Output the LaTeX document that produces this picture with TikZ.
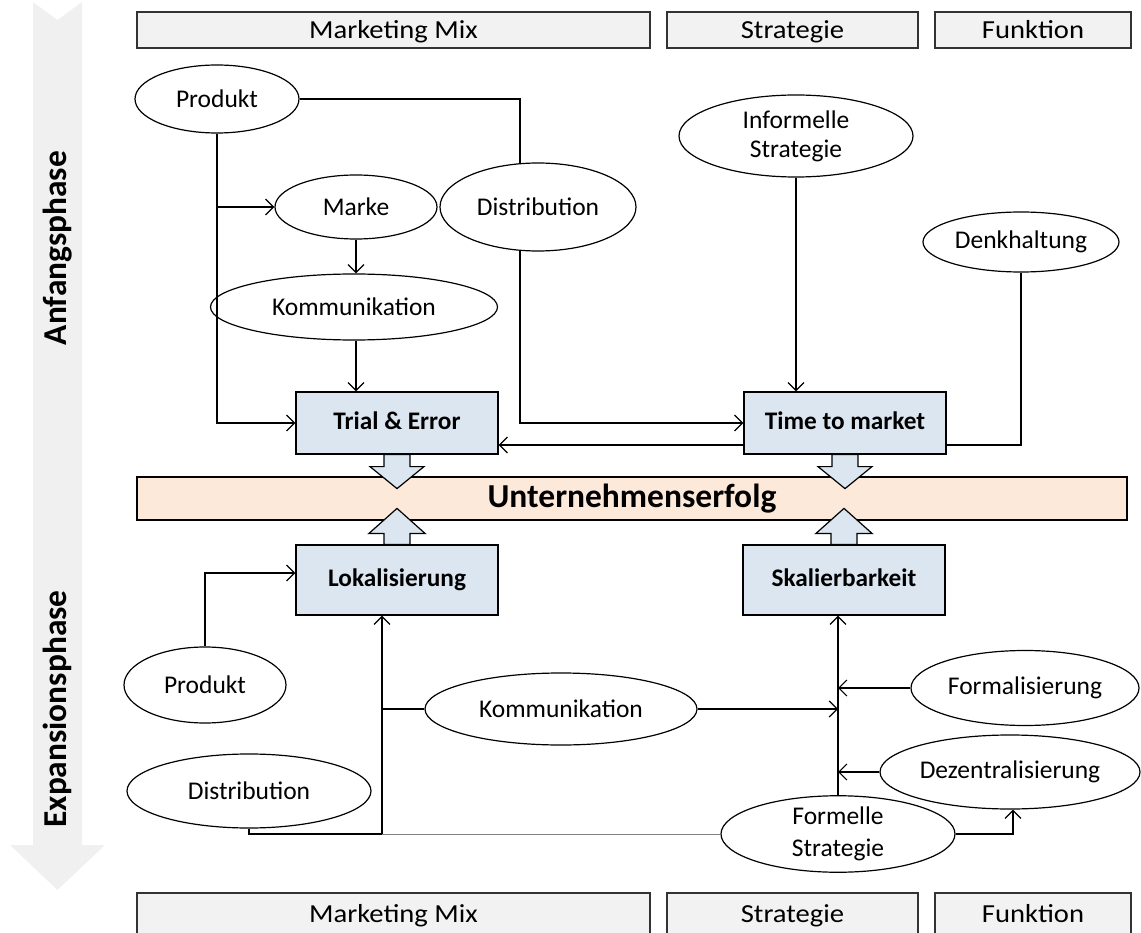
\documentclass[tikz,border=0pt]{standalone}
\usepackage{fontspec}
\setmainfont{Carlito}
\newfontfamily\hdrfont[FakeStretch=1.1]{Carlito}
\usetikzlibrary{shapes.geometric,arrows.meta,calc}
\pgfdeclarelayer{background}
\pgfsetlayers{background,main}
\definecolor{hdrfill}{HTML}{F2F2F2}
\definecolor{boxfill}{HTML}{DCE6F1}
\definecolor{barfill}{HTML}{FDE9D9}
\definecolor{phasefill}{HTML}{F0F0F0}
\tikzset{
  every node/.style={text=black},
  reg/.style={font=\fontsize{25.5}{28}\selectfont},
  ell/.style={ellipse, draw, fill=white, line width=1.2pt, inner sep=0pt, reg, align=center},
  hdr/.style={rectangle, draw=black!80, fill=hdrfill, line width=1.2pt, minimum height=36pt,
    inner sep=0pt, text height=18pt, text depth=0pt, font=\hdrfont\fontsize{26}{28}\selectfont},
  ftr/.style={hdr, minimum height=47pt, text depth=7pt},
  factor/.style={rectangle, draw, fill=boxfill, line width=1.2pt, minimum width=202pt,
    inner sep=0pt, text height=18pt, text depth=5pt,
    font=\bfseries\fontsize{25.3}{28}\selectfont},
  conn/.style={line width=1.2pt},
  arr/.style={conn, -{Straight Barb[length=8pt,width=16pt,line width=1.2pt]}},
  blockarrow/.style={draw, fill=boxfill, line width=1.2pt, line join=miter},
  phase/.style={font=\bfseries\fontsize{33.4}{36}\selectfont, rotate=90}
}
\begin{document}
\begin{tikzpicture}[x=1pt,y=-1pt]
\useasboundingbox (0,0) rectangle (1141,933);

% phase arrow on the left
\fill[phasefill] (33,2) -- (57.5,20) -- (82,2) -- (82,845) -- (105,845)
  -- (57.5,890) -- (10,845) -- (33,845) -- cycle;
\node[phase] (anf) at (57.5,248) {Anfangsphase};
\node[phase] (exp) at (57.5,709) {Expansionsphase};

% column headers
\node[hdr, minimum width=513pt] (mmT) at (393.5,30) {Marketing Mix};
\node[hdr, minimum width=251pt] (stT) at (792.5,30) {Strategie};
\node[hdr, minimum width=196pt] (fkT) at (1033,30) {Funktion};
\node[ftr, minimum width=513pt] (mmB) at (393.5,916.5) {Marketing Mix};
\node[ftr, minimum width=251pt] (stB) at (792.5,916.5) {Strategie};
\node[ftr, minimum width=196pt] (fkB) at (1033,916.5) {Funktion};

% start-up phase
\node[ell, minimum width=164pt, minimum height=68pt] (prod1) at (217,99) {Produkt};
\node[ell, minimum width=162pt, minimum height=64pt] (marke) at (356,207) {Marke};
\node[ell, minimum width=196pt, minimum height=88pt] (dist1) at (538,207) {Distribution};
\node[ell, minimum width=234pt, minimum height=82pt] (info) at (796,136) {Informelle\\[1pt]Strategie};
\node[ell, minimum width=196pt, minimum height=60pt] (denk) at (1021,242) {Denkhaltung};
\node[ell, minimum width=287pt, minimum height=66pt] (komm1) at (354,307) {Kommunikation};

\node[factor, minimum height=62pt] (tae) at (397,423) {Trial \& Error};
\node[factor, minimum height=62pt] (ttm) at (845,423) {Time to market};

\coordinate (pbend) at (520,423);
\begin{pgfonlayer}{background}
  \draw[arr] (prod1.east) -| (pbend) -- (ttm.west |- pbend);
\end{pgfonlayer}
\draw[arr] (prod1.south) |- (tae.west);
\draw[arr] (prod1.south |- marke.west) -- (marke.west);
\draw[arr] (marke.south) -- (marke.south |- komm1.north);
\draw[arr] (komm1.south -| marke.south) -- (marke.south |- tae.north);
\draw[arr] (info.south) -- (info.south |- ttm.north);
\draw[conn] (denk.south) |- ([yshift=-22pt]ttm.east);
\draw[arr] ([yshift=-22pt]ttm.west) -- ([yshift=-22pt]tae.east);

% result bar
\node[rectangle, draw, fill=barfill, line width=1.2pt, minimum width=990pt, minimum height=43pt,
  font=\bfseries\fontsize{33.5}{36}\selectfont] (erfolg) at (632,498.5) {Unternehmenserfolg};

% expansion phase
\node[factor, minimum height=70pt] (lok) at (397,580) {Lokalisierung};
\node[factor, minimum height=70pt] (skal) at (844,580) {Skalierbarkeit};

% block arrows into the result bar
\foreach \b in {tae,ttm}{
  \draw[blockarrow] ([xshift=-13pt]\b.south) -- ++(0,12) -- ++(-14,0) -- ++(27,22)
    -- ++(27,-22) -- ++(-14,0) -- ++(0,-12) -- cycle;
}
\foreach \b in {lok,skal}{
  \draw[blockarrow] ([xshift=-13pt]\b.north) -- ++(0,-11) -- ++(-15,0) -- ++(28,-25)
    -- ++(28,25) -- ++(-15,0) -- ++(0,11) -- cycle;
}

\node[ell, minimum width=162pt, minimum height=76pt] (prod2) at (205,685) {Produkt};
\node[ell, minimum width=244pt, minimum height=74pt] (dist2) at (249,791) {Distribution};
\node[ell, minimum width=272pt, minimum height=72pt] (komm2) at (561,709) {Kommunikation};
\node[ell, minimum width=228pt, minimum height=75pt] (form) at (1025,688) {Formalisierung};
\node[ell, minimum width=260pt, minimum height=74pt] (dez) at (1010,772) {Dezentralisierung};
\node[ell, minimum width=234pt, minimum height=74pt] (fs) at (838,834) {Formelle\\[4pt]Strategie};

\coordinate (lj) at (382,834);
\draw[conn] (dist2.south) |- (lj);
\draw[black!50, line width=0.9pt] (lj) -- (fs.west);
\draw[arr] (lj) -- (lj |- lok.south);
\draw[conn] (komm2.west) -- (komm2.west -| lj);
\draw[arr] (prod2.north) |- ([yshift=7pt]lok.west);

\draw[arr] (fs.north) -- (fs.north |- skal.south);
\draw[arr] (komm2.east) -- (komm2.east -| fs.north);
\draw[arr] (form.west) -- (form.west -| fs.north);
\draw[arr] (dez.west) -- (dez.west -| fs.north);
\draw[arr] (fs.east) -| ([xshift=3pt]dez.south);
\end{tikzpicture}
\end{document}
